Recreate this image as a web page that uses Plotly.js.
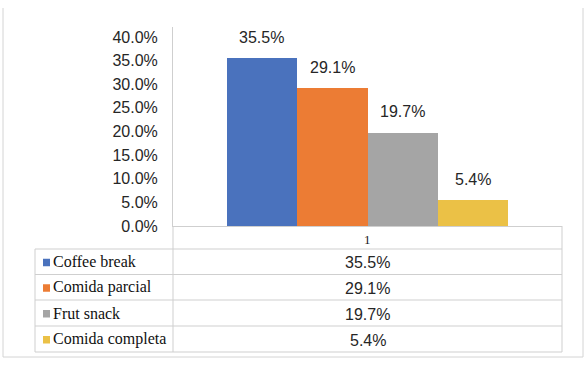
<!DOCTYPE html>
<html>
<head>
<meta charset="utf-8">
<script src="https://cdn.plot.ly/plotly-3.0.1.min.js"></script>
<style>html,body{margin:0;padding:0;background:#fff;}#chart{width:587px;height:366px;}</style>
</head>
<body>
<div id="chart"></div>
<script>
// ---- data ----
const categories = ['Coffee break', 'Comida parcial', 'Frut snack', 'Comida completa'];
const values = [35.5, 29.1, 19.7, 5.4];
const headerLabel = '1';
const yTicks = [0, 5, 10, 15, 20, 25, 30, 35, 40];
// ---- style ----
const colors = ['#4A72BD', '#EC7C34', '#A5A5A5', '#EBC146'];

const W = 587, H = 366;
const plotL = 173, plotR = 562, plotT = 27, plotB = 226;
const px = x => (x - plotL) / (plotR - plotL);
const py = y => (plotB - y) / (plotB - plotT);

const sans = 'Liberation Sans, Arial, sans-serif';
const serif = '"Liberation Serif", "Times New Roman", serif';
const gridCol = '#cfcfcf';

const fmt = v => v.toFixed(1) + '%';

const trace = {
  type: 'bar',
  x: categories,
  y: values,
  marker: {color: colors, line: {width: 0}},
  hoverinfo: 'skip',
  showlegend: false
};

const shapes = [];
const annotations = [];

// bar value labels
categories.forEach((c, i) => {
  annotations.push({
    x: c, y: values[i], xref: 'x', yref: 'y',
    text: fmt(values[i]), showarrow: false,
    yanchor: 'middle', yshift: 21,
    font: {family: sans, size: 16, color: '#262626'}
  });
});

// data table
const rowLines = [226, 249, 274.5, 300, 326, 352];
const tL = 35, tD = 173, tR = 562;
const line = (x0, y0, x1, y1, col) => shapes.push({
  type: 'line', xref: 'paper', yref: 'paper',
  x0: px(x0), y0: py(y0), x1: px(x1), y1: py(y1),
  line: {color: col || gridCol, width: 1}
});
line(tD, rowLines[0], tD, rowLines[5]);
line(tR, rowLines[0], tR, rowLines[5]);
line(tL, rowLines[1], tL, rowLines[5]);
for (let r = 1; r < rowLines.length; r++) line(tL, rowLines[r], tR, rowLines[r]);

annotations.push({
  xref: 'paper', yref: 'paper', x: px((tD + tR) / 2), y: py(rowLines[0] + 13.5),
  text: headerLabel, showarrow: false, xanchor: 'center', yanchor: 'middle',
  font: {family: serif, size: 13, color: '#1a1a1a'}
});

categories.forEach((c, i) => {
  const yc = (rowLines[i + 1] + rowLines[i + 2]) / 2;
  shapes.push({
    type: 'rect', xref: 'paper', yref: 'paper',
    x0: px(43), x1: px(50), y0: py(yc + 4.5), y1: py(yc - 3),
    fillcolor: colors[i], line: {width: 0}
  });
  annotations.push({
    xref: 'paper', yref: 'paper', x: px(51), y: py(yc),
    text: c, showarrow: false, xanchor: 'left', yanchor: 'middle',
    font: {family: serif, size: 16, color: '#111'}
  });
  annotations.push({
    xref: 'paper', yref: 'paper', x: px((tD + tR) / 2), y: py(yc + 1),
    text: fmt(values[i]), showarrow: false, xanchor: 'center', yanchor: 'middle',
    font: {family: sans, size: 16, color: '#262626'}
  });
});

// outer frame (left, right, bottom)
line(3, 8, 3, 357, '#d4d4d4');
line(583, 8, 583, 357, '#d4d4d4');
line(3, 357, 583, 357, '#d4d4d4');

const layout = {
  width: W, height: H,
  margin: {l: plotL, r: W - plotR, t: plotT, b: H - plotB, pad: 0},
  paper_bgcolor: '#fff', plot_bgcolor: '#fff',
  bargap: 0,
  xaxis: {
    type: 'category', range: [-1.26, 4.26], fixedrange: true,
    showticklabels: false, showgrid: false, zeroline: false, ticks: '',
    showline: true, linecolor: gridCol, linewidth: 1
  },
  yaxis: {
    range: [0, 42.1], tickvals: yTicks, ticktext: yTicks.map(fmt),
    showgrid: false, zeroline: false, ticks: '',
    showline: true, linecolor: gridCol, linewidth: 1,
    ticklabelstandoff: 11,
    tickfont: {family: sans, size: 16, color: '#262626'}
  },
  shapes: shapes,
  annotations: annotations,
  showlegend: false
};

Plotly.newPlot('chart', [trace], layout, {staticPlot: true, displayModeBar: false});
</script>
</body>
</html>
